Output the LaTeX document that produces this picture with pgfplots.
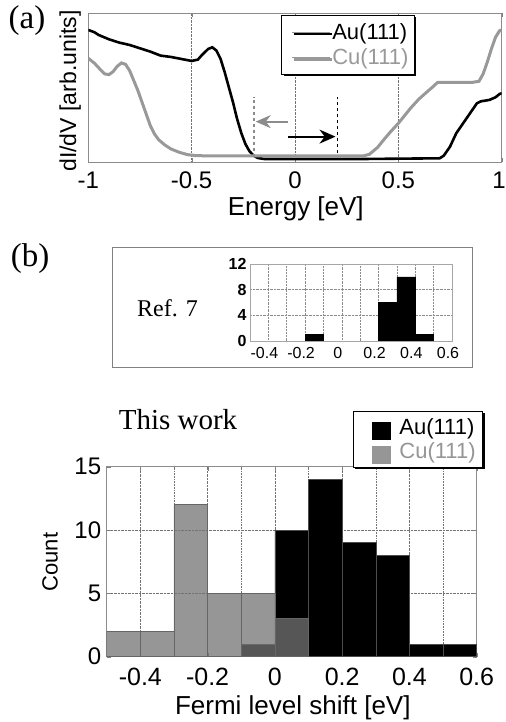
\documentclass[border=0pt]{standalone}
\usepackage{pgfplots}
\pgfplotsset{compat=1.18}
\usepackage{fontspec}
\setmainfont{Liberation Serif}
\newfontfamily\arial{Liberation Sans}
\usetikzlibrary{arrows.meta,shadows}
\newcommand{\fs}[1]{\fontsize{#1bp}{#1bp}\selectfont}

\begin{document}
\begin{tikzpicture}
\useasboundingbox (0,0) rectangle (506bp,722bp);

% ---------------- panel (a) ----------------
\begin{axis}[
  scale only axis, width=413.4bp, height=149bp,
  at={(88.3bp,559.7bp)}, anchor=south west,
  xmin=-1, xmax=1, ymin=0, ymax=447,
  xtick={-1,-0.5,0,0.5,1},
  xticklabels={-1,-0.5,0,0.5,\makebox[8bp][r]{1}},
  ytick=\empty,
  xmajorgrids,
  grid style={densely dotted, black!55, line width=0.6bp},
  axis line style={black!45, line width=0.8bp},
  tick align=inside, major tick length=4bp, tick style={black!50},
  xticklabel style={font=\arial\fs{24}, yshift=-6bp},
  xlabel={Energy [eV]},
  xlabel style={font=\arial\fs{26}, at={(axis description cs:0.502,-0.313)}, anchor=center},
  ylabel={dI/dV [arb.units]},
  ylabel style={font=\arial\fs{23}, at={(axis description cs:-0.044,0.478)}, anchor=center},
  legend style={at={(0.790,0.989)}, anchor=north east, draw=black, line width=0.8bp,
    fill=white, font=\arial\fs{22}, inner xsep=4bp, inner ysep=6bp, row sep=4bp,
    drop shadow={shadow xshift=2bp, shadow yshift=-2bp, fill=black, opacity=1}},
  legend cell align=left,
  legend image code/.code={\node[anchor=west, inner sep=0pt, outer sep=0pt] at (0bp,0bp) {\hspace*{44bp}};
    \draw[black!40, line width=0.8bp] (6bp,0bp) -- (44bp,0bp);},
]
\addplot[black, line width=2.6bp] coordinates {
(-1.00,397) (-0.97,390) (-0.95,382) (-0.90,369) (-0.85,359) (-0.80,352)
(-0.75,342) (-0.70,332) (-0.65,320) (-0.60,316) (-0.55,310) (-0.50,304)
(-0.47,308) (-0.45,322) (-0.42,340) (-0.40,345) (-0.38,335) (-0.36,310)
(-0.34,270) (-0.32,225) (-0.30,180) (-0.28,130) (-0.26,88) (-0.24,55)
(-0.22,33) (-0.20,20) (-0.18,13) (-0.15,10) (0.00,10) (0.35,10) (0.70,12)
(0.72,20) (0.75,47) (0.78,87) (0.83,132) (0.88,177) (0.90,183) (0.94,187)
(0.97,195) (0.99,205) (1.00,207)};
\addlegendentry{Au(111)}
\addplot[black!40, line width=3bp] coordinates {
(-1.00,312) (-0.97,297) (-0.94,277) (-0.92,265) (-0.90,263) (-0.88,272)
(-0.86,288) (-0.84,298) (-0.82,294) (-0.80,275) (-0.78,245) (-0.76,215)
(-0.74,180) (-0.72,145) (-0.70,110) (-0.68,85) (-0.66,68) (-0.63,52)
(-0.60,40) (-0.56,30) (-0.52,23) (-0.48,20) (-0.40,19) (0.00,19) (0.33,19)
(0.36,24) (0.40,45) (0.43,68) (0.46,90) (0.50,117) (0.53,140) (0.56,163)
(0.60,190) (0.64,212) (0.67,228) (0.69,240) (0.75,240) (0.80,240) (0.86,240)
(0.89,243) (0.91,265) (0.93,300) (0.95,340) (0.97,375) (0.99,395) (1.00,397)};
\addlegendentry{\textcolor{black!40}{Cu(111)}}
\addplot[forget plot, black!45, dashed, line width=1.3bp] coordinates {(-0.198,17) (-0.198,197)};
\addplot[forget plot, black, dashed, line width=1.3bp] coordinates {(0.205,27) (0.205,202)};
\draw[black!45, line width=2bp, -{Stealth[length=15bp,width=13bp]}] (axis cs:-0.032,122) -- (axis cs:-0.19,122);
\draw[black, line width=2bp, -{Stealth[length=16bp,width=14bp]}] (axis cs:-0.032,77) -- (axis cs:0.196,77);
\end{axis}

\node[font=\rmfamily\fs{33}] at (27bp,701bp) {(a)};
\node[font=\rmfamily\fs{33}] at (30bp,463bp) {(b)};

% ---------------- inset Ref. 7 ----------------
\draw[black!50, line width=0.8bp] (112bp,355bp) rectangle (472bp,475bp);
\node[font=\rmfamily\fs{24}] at (167.5bp,414bp) {Ref. 7};

\begin{axis}[
  scale only axis, width=202bp, height=77bp,
  at={(250bp,381bp)}, anchor=south west,
  xmin=-0.5, xmax=0.6, ymin=0, ymax=12,
  xtick={-0.4,-0.2,0,0.2,0.4,0.6},
  xticklabels={-0.4,-0.2,0,0.2,0.4,0.6},
  minor xtick={-0.3,-0.1,0.1,0.3,0.5},
  ytick={0,4,8,12}, yticklabels={0,4,8,12},
  xmajorgrids, xminorgrids, ymajorgrids,
  grid style={densely dotted, black!45, line width=0.5bp},
  minor grid style={densely dotted, black!45, line width=0.5bp},
  axis line style={black!35, line width=0.6bp},
  major tick length=0bp, minor tick length=0bp,
  xticklabel style={font=\arial\fs{16}, yshift=-3bp, xshift=-4bp},
  yticklabel style={font=\arial\bfseries\fs{16}},
]
\addplot[ybar interval, fill=black, draw=black] coordinates {(-0.2,1) (-0.1,1)};
\addplot[ybar interval, fill=black, draw=black] coordinates {(0.2,6) (0.3,10) (0.4,1) (0.5,1)};
\end{axis}

% ---------------- main histogram ----------------
\node[font=\rmfamily\fs{29}] at (178bp,302bp) {This work};

\begin{axis}[
  scale only axis, width=370bp, height=190bp,
  at={(106.7bp,65.3bp)}, anchor=south west,
  xmin=-0.5, xmax=0.6, ymin=0, ymax=15,
  xtick={-0.4,-0.2,0,0.2,0.4,0.6},
  xticklabels={-0.4,-0.2,0,0.2,0.4,0.6},
  minor xtick={-0.3,-0.1,0.1,0.3,0.5},
  ytick={0,5,10,15}, yticklabels={0,5,10,15},
  xmajorgrids, xminorgrids, ymajorgrids,
  grid style={densely dotted, black!55, line width=0.6bp},
  minor grid style={densely dotted, black!55, line width=0.6bp},
  axis line style={black!45, line width=0.8bp},
  tick align=inside, major tick length=4bp, minor tick length=0bp, tick style={black!50},
  xticklabel style={font=\arial\fs{25}, yshift=-8bp},
  yticklabel style={font=\arial\fs{24}, xshift=-2bp},
  xlabel={Fermi level shift [eV]},
  xlabel style={font=\arial\fs{26}, at={(axis description cs:0.503,-0.27)}, anchor=center},
  ylabel={Count},
  ylabel style={font=\arial\fs{22}, at={(axis description cs:-0.153,0.498)}, anchor=center},
  legend style={at={(1.017,1.293)}, anchor=north east, draw=black, line width=0.8bp,
    fill=white, font=\arial\fs{22}, inner xsep=5bp, inner ysep=5bp, row sep=3bp,
    drop shadow={shadow xshift=2bp, shadow yshift=-2bp, fill=black, opacity=1}},
  legend cell align=left,
]
\addplot[ybar interval, fill=black, draw=black!70, line width=0.6bp,
  legend image code/.code={\node[anchor=west, inner sep=0pt, outer sep=0pt] at (0bp,0bp)
    {\hspace*{14bp}\textcolor{black}{\rule[-9bp]{19bp}{18bp}}\hspace*{6bp}};}]
  coordinates {(-0.1,1) (0,10) (0.1,14) (0.2,9) (0.3,8) (0.4,1) (0.5,1) (0.6,1)};
\addlegendentry{Au(111)}
\addplot[ybar interval, fill=black!55, fill opacity=0.75, draw=black!60, line width=0.6bp,
  legend image code/.code={\node[anchor=west, inner sep=0pt, outer sep=0pt, opacity=1, fill opacity=1, text opacity=1] at (0bp,0bp)
    {\hspace*{14bp}\textcolor{black!41}{\rule[-9bp]{19bp}{18bp}}\hspace*{6bp}};}]
  coordinates {(-0.5,2) (-0.4,2) (-0.3,12) (-0.2,5) (-0.1,5) (0,3) (0.1,3)};
\addlegendentry{\textcolor{black!41}{Cu(111)}}
\end{axis}
\end{tikzpicture}
\end{document}
